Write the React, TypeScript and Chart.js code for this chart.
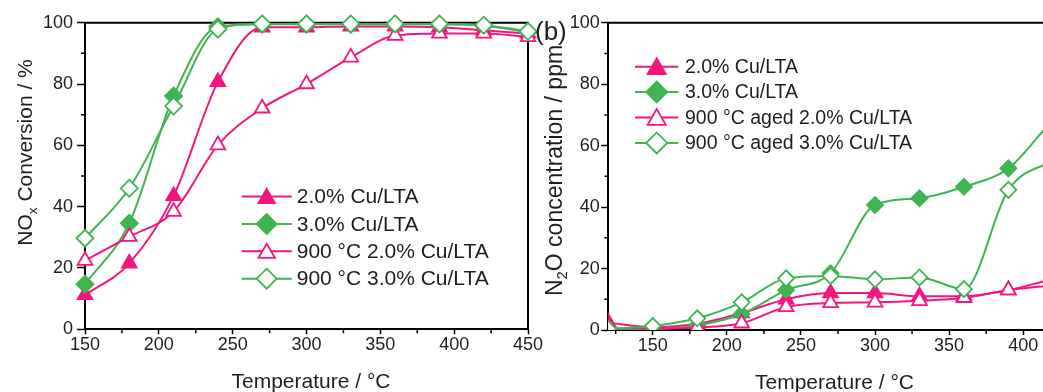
import React, { useEffect, useRef } from 'react';
import { Chart, registerables } from 'chart.js';

Chart.register(...registerables);

const FONT = '"Liberation Sans", Arial, Helvetica, sans-serif';
const PINK = '#f5157f';
const GREEN = '#3fb552';
const TEXT = '#1e1e1e';

// ---------- Panel (a): NOx conversion ----------
const tempA = [150, 180, 210, 240, 270, 300, 330, 360, 390, 420, 450];
const noxCu2 = [11.2, 21.5, 43.5, 80.7, 98.5, 98.5, 98.8, 98.8, 98.5, 97.5, 96.5];
const noxCu3 = [14.7, 34.6, 76.1, 98.7, 99.5, 99.5, 99.5, 99.5, 99.5, 99.0, 97.0];
const noxAged2 = [22.4, 30.2, 38.4, 60.1, 72.1, 80.0, 88.7, 95.8, 96.5, 96.5, 95.4];
const noxAged3 = [29.7, 46.0, 72.8, 97.9, 99.6, 99.6, 99.6, 99.6, 99.6, 99.2, 97.2];

// ---------- Panel (b): N2O concentration ----------
const tempB = [120, 150, 180, 210, 240, 270, 300, 330, 360, 390, 420, 450];
const n2oCu2 = [2.4, 0.9, 2.0, 5.5, 10.0, 12.0, 12.0, 11.0, 11.0, 13.0, 16.5, 19.0];
const n2oCu3 = [0.3, 0.3, 1.5, 5.2, 13.0, 18.5, 40.7, 42.9, 46.6, 52.6, 68.0, 78.0];
const n2oAged2 = [0.5, 0.5, 0.8, 2.2, 7.5, 8.8, 9.0, 9.5, 10.5, 13.0, 14.5, 16.0];
const n2oAged3 = [0.3, 1.3, 3.8, 9.0, 16.8, 17.6, 16.5, 17.1, 13.3, 45.6, 55.0, 62.0];

const namesA = ['2.0% Cu/LTA', '3.0% Cu/LTA', '900 °C 2.0% Cu/LTA', '900 °C 3.0% Cu/LTA'];
const namesB = ['2.0% Cu/LTA', '3.0% Cu/LTA', '900 °C aged 2.0% Cu/LTA', '900 °C aged 3.0% Cu/LTA'];

const xTicksA = [150, 200, 250, 300, 350, 400, 450];
const xMinorA = [175, 225, 275, 325, 375, 425];
const xTicksB = [150, 200, 250, 300, 350, 400, 450];
const xMinorB = [125, 175, 225, 275, 325, 375, 425];
const yTicks = [0, 20, 40, 60, 80, 100];
const yMinor = [10, 30, 50, 70, 90];

type Shape = 'triangle' | 'rectRot';
const STYLES: { color: string; shape: Shape; filled: boolean }[] = [
  { color: PINK, shape: 'triangle', filled: true },
  { color: GREEN, shape: 'rectRot', filled: true },
  { color: PINK, shape: 'triangle', filled: false },
  { color: GREEN, shape: 'rectRot', filled: false },
];

type Seg = { t: string; sub?: boolean; sup?: boolean };

interface Panel {
  xs: number[];
  series: number[][];
  names: string[];
  canvasW: number;
  canvasH: number;
  area: { left: number; top: number; right: number; bottom: number };
  xMin: number;
  xMax: number;
  xTicks: number[];
  xMinor: number[];
  yTickLen: number;
  yPad: number;
  clip: boolean;
  rTri: number;
  rDia: number;
  legend: { x1: number; x2: number; mx: number; tx: number; y0: number; dy: number; size: number; rTri: number; rDia: number };
  yTitle: { segs: Seg[]; x: number; y: number; size: number };
  xTitle: { segs: Seg[]; x: number; y: number; size: number };
  tag?: { text: string; x: number; y: number; size: number };
}

function drawRich(ctx: CanvasRenderingContext2D, segs: Seg[], x: number, y: number, size: number, rotate: boolean) {
  ctx.save();
  ctx.translate(x, y);
  if (rotate) ctx.rotate(-Math.PI / 2);
  ctx.textBaseline = 'alphabetic';
  ctx.textAlign = 'left';
  ctx.fillStyle = TEXT;
  const fsOf = (s: Seg) => (s.sub || s.sup ? size * 0.65 : size);
  const widths = segs.map((s) => {
    ctx.font = `${fsOf(s)}px ${FONT}`;
    return ctx.measureText(s.t).width;
  });
  const total = widths.reduce((a, b) => a + b, 0);
  let cx = -total / 2;
  segs.forEach((s, i) => {
    ctx.font = `${fsOf(s)}px ${FONT}`;
    const dy = s.sub ? size * 0.22 : s.sup ? -size * 0.4 : 0;
    ctx.fillText(s.t, cx, dy);
    cx += widths[i];
  });
  ctx.restore();
}

function drawMarker(ctx: CanvasRenderingContext2D, shape: Shape, x: number, y: number, r: number, fill: string, stroke: string) {
  ctx.beginPath();
  if (shape === 'triangle') {
    ctx.moveTo(x, y - r);
    ctx.lineTo(x + r * 0.866, y + r * 0.5);
    ctx.lineTo(x - r * 0.866, y + r * 0.5);
  } else {
    ctx.moveTo(x - r, y);
    ctx.lineTo(x, y - r);
    ctx.lineTo(x + r, y);
    ctx.lineTo(x, y + r);
  }
  ctx.closePath();
  ctx.fillStyle = fill;
  ctx.fill();
  ctx.lineWidth = 1.8;
  ctx.strokeStyle = stroke;
  ctx.stroke();
}

function buildConfig(p: Panel): any {
  const datasets = p.series.map((vals, i) => {
    const st = STYLES[i];
    const r = st.shape === 'triangle' ? p.rTri : p.rDia;
    return {
      label: p.names[i],
      data: p.xs.map((x, j) => ({ x, y: vals[j] })),
      borderColor: st.color,
      backgroundColor: st.color,
      borderWidth: 2,
      pointStyle: st.shape,
      pointRadius: r,
      pointHoverRadius: r,
      pointBackgroundColor: st.filled ? st.color : '#ffffff',
      pointBorderColor: st.color,
      pointBorderWidth: 1.8,
      cubicInterpolationMode: 'monotone',
      fill: false,
      order: 4 - i,
      clip: p.clip ? 0 : false,
    };
  });

  const decor = {
    id: 'decor',
    beforeDatasetsDraw(chart: any) {
      const { ctx, chartArea: a, scales } = chart;
      ctx.save();
      ctx.strokeStyle = '#000';
      ctx.lineWidth = 2;
      ctx.lineCap = 'square';
      ctx.beginPath();
      ctx.moveTo(a.left, a.top);
      ctx.lineTo(a.right, a.top);
      ctx.lineTo(a.right, a.bottom);
      ctx.stroke();
      ctx.lineCap = 'butt';
      ctx.lineWidth = 1.5;
      ctx.beginPath();
      p.xMinor.forEach((v) => {
        const px = scales.x.getPixelForValue(v);
        ctx.moveTo(px, a.bottom);
        ctx.lineTo(px, a.bottom + 4);
      });
      yMinor.forEach((v) => {
        const py = scales.y.getPixelForValue(v);
        ctx.moveTo(a.left - 4, py);
        ctx.lineTo(a.left, py);
      });
      ctx.stroke();
      ctx.restore();
    },
    afterDatasetsDraw(chart: any) {
      const ctx: CanvasRenderingContext2D = chart.ctx;
      const L = p.legend;
      ctx.save();
      p.names.forEach((name, i) => {
        const st = STYLES[i];
        const y = L.y0 + L.dy * i;
        ctx.strokeStyle = st.color;
        ctx.lineWidth = 2;
        ctx.beginPath();
        ctx.moveTo(L.x1, y);
        ctx.lineTo(L.x2, y);
        ctx.stroke();
        const r = st.shape === 'triangle' ? L.rTri : L.rDia;
        const my = st.shape === 'triangle' ? y + r * 0.2 : y;
        drawMarker(ctx, st.shape, L.mx, my, r, st.filled ? st.color : '#ffffff', st.color);
        ctx.fillStyle = TEXT;
        ctx.font = `${L.size}px ${FONT}`;
        ctx.textAlign = 'left';
        ctx.textBaseline = 'middle';
        ctx.fillText(name, L.tx, y + 1);
      });
      ctx.restore();
    },
    afterDraw(chart: any) {
      const ctx: CanvasRenderingContext2D = chart.ctx;
      drawRich(ctx, p.yTitle.segs, p.yTitle.x, p.yTitle.y, p.yTitle.size, true);
      drawRich(ctx, p.xTitle.segs, p.xTitle.x, p.xTitle.y, p.xTitle.size, false);
      if (p.tag) {
        ctx.save();
        ctx.fillStyle = TEXT;
        ctx.font = `${p.tag.size}px ${FONT}`;
        ctx.textAlign = 'left';
        ctx.textBaseline = 'alphabetic';
        ctx.fillText(p.tag.text, p.tag.x, p.tag.y);
        ctx.restore();
      }
    },
  };

  const gridOpts = (len: number) => ({
    display: true,
    drawOnChartArea: false,
    drawTicks: true,
    tickLength: len,
    tickWidth: 1.5,
    tickColor: '#000',
    color: '#000',
  });

  return {
    type: 'line',
    data: { datasets },
    options: {
      responsive: false,
      animation: false,
      devicePixelRatio: 1,
      events: [],
      layout: {
        padding: { top: p.area.top, right: p.canvasW - p.area.right, bottom: 0, left: 0 },
      },
      plugins: { legend: { display: false }, tooltip: { enabled: false } },
      scales: {
        x: {
          type: 'linear',
          min: p.xMin,
          max: p.xMax,
          afterBuildTicks: (s: any) => {
            s.ticks = p.xTicks.map((v) => ({ value: v }));
          },
          afterFit: (s: any) => {
            s.height = p.canvasH - p.area.bottom;
          },
          grid: gridOpts(5),
          border: { display: true, color: '#000', width: 2 },
          ticks: { color: TEXT, font: { size: 18, family: FONT }, padding: 0, maxRotation: 0, autoSkip: false },
        },
        y: {
          type: 'linear',
          min: 0,
          max: 100,
          afterBuildTicks: (s: any) => {
            s.ticks = yTicks.map((v) => ({ value: v }));
          },
          afterFit: (s: any) => {
            s.width = p.area.left;
          },
          grid: gridOpts(p.yTickLen),
          border: { display: true, color: '#000', width: 2 },
          ticks: { color: TEXT, font: { size: 18, family: FONT }, padding: p.yPad, autoSkip: false },
        },
      },
    },
    plugins: [decor],
  };
}

const panelA: Panel = {
  xs: tempA,
  series: [noxCu2, noxCu3, noxAged2, noxAged3],
  names: namesA,
  canvasW: 545,
  canvasH: 392,
  area: { left: 85, top: 22.7, right: 528, bottom: 329.3 },
  xMin: 150,
  xMax: 450,
  xTicks: xTicksA,
  xMinor: xMinorA,
  yTickLen: 8,
  yPad: 4,
  clip: false,
  rTri: 8.5,
  rDia: 8.5,
  legend: { x1: 241.7, x2: 291.7, mx: 266.7, tx: 296.7, y0: 196.5, dy: 27.4, size: 21, rTri: 9.5, rDia: 10 },
  yTitle: { segs: [{ t: 'NO' }, { t: 'x', sub: true }, { t: ' Conversion / %' }], x: 32, y: 152.5, size: 21 },
  xTitle: { segs: [{ t: 'Temperature / °C' }], x: 311, y: 388.3, size: 21 },
};

const panelB: Panel = {
  xs: tempB,
  series: [n2oCu2, n2oCu3, n2oAged2, n2oAged3],
  names: namesB,
  canvasW: 615,
  canvasH: 392,
  area: { left: 88.3, top: 22.7, right: 577.3, bottom: 330 },
  xMin: 120,
  xMax: 450,
  xTicks: xTicksB,
  xMinor: xMinorB,
  yTickLen: 7,
  yPad: 1.5,
  clip: true,
  rTri: 8.5,
  rDia: 8,
  legend: { x1: 115, x2: 158.3, mx: 136.7, tx: 165, y0: 66.7, dy: 25.4, size: 19.5, rTri: 10.5, rDia: 10.5 },
  yTitle: { segs: [{ t: 'N' }, { t: '2', sub: true }, { t: 'O concentration / ppm' }], x: 41.7, y: 170.5, size: 23 },
  xTitle: { segs: [{ t: 'Temperature / °C' }], x: 314.5, y: 389, size: 21 },
  tag: { text: '(b)', x: 15, y: 40, size: 26 },
};

export default function App() {
  const refA = useRef<HTMLCanvasElement | null>(null);
  const refB = useRef<HTMLCanvasElement | null>(null);

  useEffect(() => {
    const charts: Chart[] = [];
    if (refA.current) charts.push(new Chart(refA.current, buildConfig(panelA)));
    if (refB.current) charts.push(new Chart(refB.current, buildConfig(panelB)));
    return () => charts.forEach((c) => c.destroy());
  }, []);

  return (
    <div
      style={{
        position: 'fixed',
        left: 0,
        top: 0,
        width: 1043,
        height: 392,
        overflow: 'hidden',
        background: '#ffffff',
      }}
    >
      <canvas
        ref={refA}
        width={panelA.canvasW}
        height={panelA.canvasH}
        style={{ position: 'absolute', left: 0, top: 0, width: panelA.canvasW, height: panelA.canvasH }}
      />
      <canvas
        ref={refB}
        width={panelB.canvasW}
        height={panelB.canvasH}
        style={{ position: 'absolute', left: 520, top: 0, width: panelB.canvasW, height: panelB.canvasH }}
      />
    </div>
  );
}
